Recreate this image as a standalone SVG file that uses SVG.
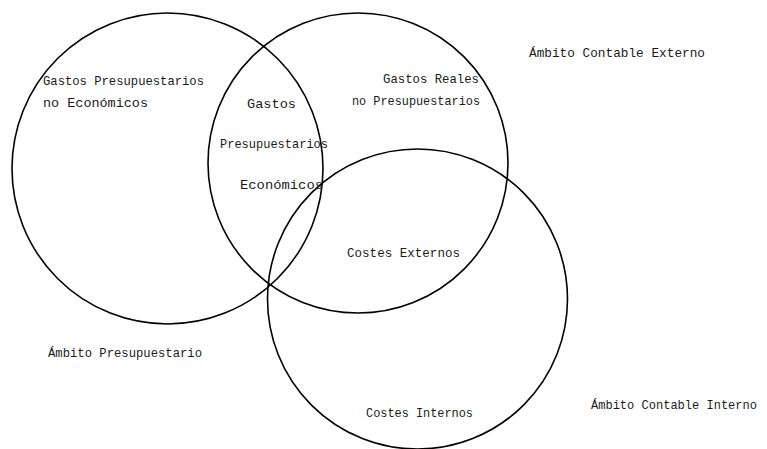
<svg xmlns="http://www.w3.org/2000/svg" width="767" height="449" viewBox="0 0 767 449">
  <style>
    .ring { fill: none; stroke: #000; stroke-width: 1.6; }
    .lbl { font-family: "Liberation Mono", "DejaVu Sans Mono", monospace; font-size: 13.5px; fill: #1a1a1a; }
    .edge { font-size: 12.4px; }
  </style>
  <rect width="767" height="449" fill="#fff"/>

  <!-- Budgetary scope -->
  <g id="ambito-presupuestario">
    <ellipse class="ring" cx="167.5" cy="168.5" rx="155.5" ry="155.5"/>
    <text class="lbl" x="43" y="85" textLength="161" lengthAdjust="spacingAndGlyphs">Gastos Presupuestarios</text>
    <text class="lbl" x="43" y="107" textLength="105" lengthAdjust="spacingAndGlyphs">no Económicos</text>
    <text class="lbl" x="48" y="357" textLength="154" lengthAdjust="spacingAndGlyphs">Ámbito Presupuestario</text>
  </g>

  <!-- External accounting scope -->
  <g id="ambito-contable-externo">
    <circle class="ring" cx="358" cy="163" r="150"/>
    <text class="lbl" x="383" y="83" textLength="96" lengthAdjust="spacingAndGlyphs">Gastos Reales</text>
    <text class="lbl" x="352" y="105" textLength="128" lengthAdjust="spacingAndGlyphs">no Presupuestarios</text>
    <text class="lbl" x="529" y="57" textLength="176" lengthAdjust="spacingAndGlyphs">Ámbito Contable Externo</text>
  </g>

  <!-- Internal accounting scope -->
  <g id="ambito-contable-interno">
    <circle class="ring" cx="417.5" cy="299" r="150"/>
    <text class="lbl" x="366" y="417" textLength="107" lengthAdjust="spacingAndGlyphs">Costes Internos</text>
    <text class="lbl edge" x="591" y="409" textLength="166" lengthAdjust="spacingAndGlyphs">Ámbito Contable Interno</text>
  </g>

  <!-- Overlap: budgetary economic expenses -->
  <g id="gastos-presupuestarios-economicos">
    <text class="lbl" x="247" y="108" textLength="49" lengthAdjust="spacingAndGlyphs">Gastos</text>
    <text class="lbl" x="220" y="148" textLength="108" lengthAdjust="spacingAndGlyphs">Presupuestarios</text>
    <text class="lbl" x="240" y="189" textLength="83" lengthAdjust="spacingAndGlyphs">Económicos</text>
  </g>

  <!-- Overlap: external costs -->
  <g id="costes-externos">
    <text class="lbl" x="347" y="257" textLength="113" lengthAdjust="spacingAndGlyphs">Costes Externos</text>
  </g>
</svg>
